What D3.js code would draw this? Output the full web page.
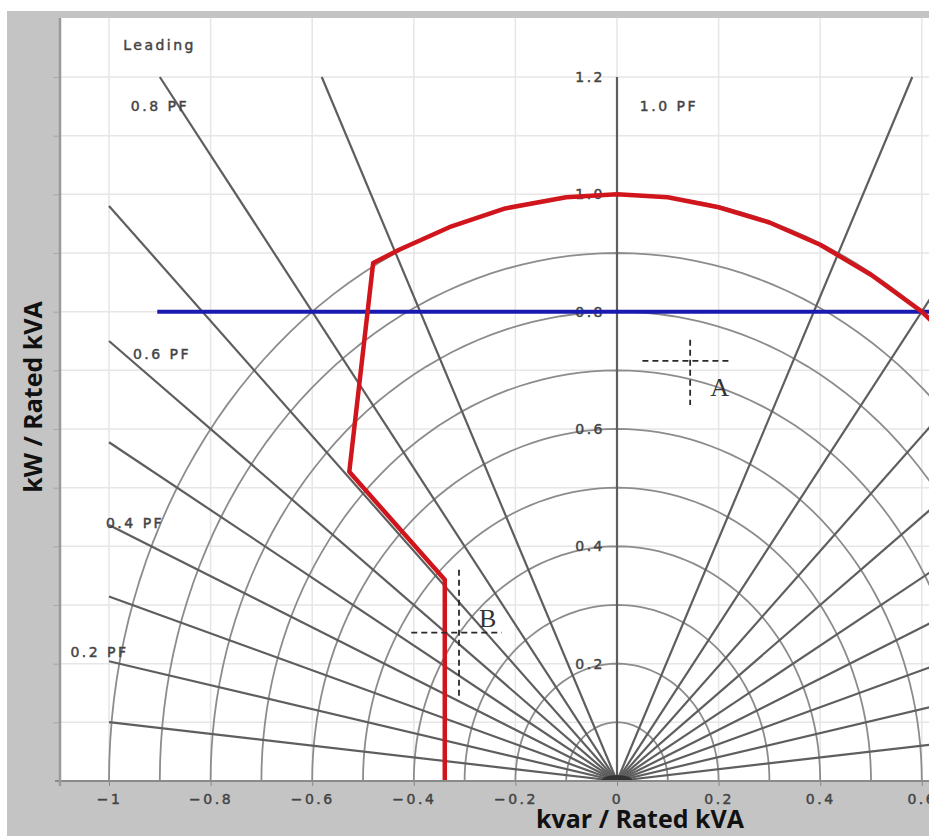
<!DOCTYPE html>
<html>
<head>
<meta charset="utf-8">
<script src="https://cdn.jsdelivr.net/npm/d3@7"></script>
<style>
body { margin: 0; background: #fff; }
svg { display: block; }
.lbl { font-family: "DejaVu Sans", sans-serif; font-size: 14px; letter-spacing: 2.5px; fill: #444; stroke: #444; stroke-width: 0.45px; }
.title { font-family: "Open Sans", sans-serif; font-weight: bold; font-size: 25px; fill: #111; }
.mark { font-family: "Liberation Serif", serif; font-size: 26px; fill: #333; }
</style>
</head>
<body>
<div id="chart"></div>
<script>
// power factor lines (leading on the left, lagging on the right)
var pfValues = [0.1, 0.2, 0.3, 0.4, 0.5, 0.6, 0.7, 0.8, 0.9];
// apparent power rings
var ringRadii = [0.1, 0.2, 0.3, 0.4, 0.5, 0.6, 0.7, 0.8, 0.9, 1.0];

var xTicks = [-1, -0.8, -0.6, -0.4, -0.2, 0, 0.2, 0.4, 0.6];
var yTicks = [0.2, 0.4, 0.6, 0.8, 1.0, 1.2];
var yGrid = [0.1, 0.2, 0.3, 0.4, 0.5, 0.6, 0.7, 0.8, 0.9, 1.0, 1.1, 1.2];
var xGrid = [-1, -0.8, -0.6, -0.4, -0.2, 0, 0.2, 0.4, 0.6];

// capability curve [kvar, kW]
var capCurve = [
	[-0.339, 0], [-0.339, 0.343], [-0.527, 0.527], [-0.48, 0.883],
	[-0.43, 0.905], [-0.33, 0.944], [-0.22, 0.976], [-0.1, 0.995],
	[0, 1.0], [0.1, 0.995], [0.2, 0.978], [0.3, 0.952], [0.4, 0.914],
	[0.5, 0.863], [0.6, 0.8], [0.66, 0.75]
];
// kW limit
var kwLimit = [[-0.905, 0.8], [1.0, 0.8]];

// operating points
var points = [
	{ name: "A", x: 0.144, y: 0.716, dx: [0.05, 0.226], dy: [0.641, 0.752] },
	{ name: "B", x: -0.311, y: 0.253, dx: [-0.405, -0.227], dy: [0.143, 0.36] }
];

var pfLabels = [
	{ text: "Leading", x: -0.972, y: 1.254 },
	{ text: "0.8 PF", x: -0.957, y: 1.15 },
	{ text: "1.0 PF", x: 0.045, y: 1.15 },
	{ text: "0.6 PF", x: -0.953, y: 0.728 },
	{ text: "0.4 PF", x: -1.006, y: 0.44 },
	{ text: "0.2 PF", x: -1.076, y: 0.22 }
];

var W = 929, H = 836;
var plotLeft = 60, plotTop = 18, plotBottom = 781;

var x = d3.scaleLinear().domain([-1, 0]).range([109, 617]);
var y = d3.scaleLinear().domain([0, 1.2]).range([781, 77]);

var svg = d3.select("#chart").append("svg")
	.attr("width", W)
	.attr("height", H);

svg.append("rect")
	.attr("x", 7).attr("y", 11)
	.attr("width", W - 7).attr("height", H - 11)
	.attr("fill", "#c4c4c4");

svg.append("rect")
	.attr("x", plotLeft).attr("y", plotTop)
	.attr("width", W - plotLeft).attr("height", plotBottom - plotTop)
	.attr("fill", "#fff");

svg.append("clipPath").attr("id", "plot-clip")
	.append("rect")
	.attr("x", plotLeft).attr("y", plotTop)
	.attr("width", W - plotLeft).attr("height", plotBottom - plotTop);

var plot = svg.append("g").attr("clip-path", "url(#plot-clip)");

// light grid
plot.append("g").selectAll("line")
	.data(yGrid)
	.enter()
	.append("line")
	.attr("x1", plotLeft).attr("x2", W)
	.attr("y1", function (d) { return y(d); })
	.attr("y2", function (d) { return y(d); })
	.attr("stroke", "#e6e6e6")
	.attr("stroke-width", 1.5);

plot.append("g").selectAll("line")
	.data(xGrid)
	.enter()
	.append("line")
	.attr("y1", plotTop).attr("y2", plotBottom)
	.attr("x1", function (d) { return x(d); })
	.attr("x2", function (d) { return x(d); })
	.attr("stroke", "#e6e6e6")
	.attr("stroke-width", 1.5);

// rings
var angles = d3.range(0, 181, 2);

plot.append("g").selectAll("path")
	.data(ringRadii)
	.enter()
	.append("path")
	.attr("d", function (r) {
		return d3.line()
			.x(function (a) { return x(r * Math.cos(a * Math.PI / 180)); })
			.y(function (a) { return y(r * Math.sin(a * Math.PI / 180)); })(angles);
	})
	.attr("fill", "none")
	.attr("stroke", "#8c8c8c")
	.attr("stroke-width", 1.8);

// pf lines, clipped to the [-1,1] x [0,1.2] box
var rays = [];
pfValues.forEach(function (pf) {
	rays.push({ pf: pf, side: -1 });
	rays.push({ pf: pf, side: 1 });
});
rays.push({ pf: 1, side: 1 });

plot.append("g").selectAll("line")
	.data(rays)
	.enter()
	.append("line")
	.each(function (d) {
		var s = Math.sqrt(1 - d.pf * d.pf);
		var t = Math.min(s > 0 ? 1 / s : Infinity, 1.2 / d.pf);
		d3.select(this)
			.attr("x1", x(0)).attr("y1", y(0))
			.attr("x2", x(d.side * s * t))
			.attr("y2", y(d.pf * t));
	})
	.attr("stroke", "#5e5e5e")
	.attr("stroke-width", 2.2);

// dark knot where the pf lines meet
plot.append("ellipse")
	.attr("cx", x(0)).attr("cy", y(0))
	.attr("rx", 16).attr("ry", 6)
	.attr("fill", "#222")
	.attr("opacity", 0.7);

// axes
var xAxis = d3.axisBottom(x).tickValues(xTicks).tickSize(5).tickPadding(8)
	.tickFormat(d3.format("~g"));
var gx = svg.append("g")
	.attr("transform", "translate(0," + plotBottom + ")")
	.call(xAxis);
gx.select(".domain").remove();
gx.append("line").attr("x1", 55).attr("x2", W).attr("stroke", "#8a8a8a").attr("stroke-width", 2);
gx.selectAll(".tick line").attr("stroke", "#8a8a8a");
gx.selectAll(".tick text")
	.attr("class", "lbl")
	.attr("fill", null)
	.attr("font-size", null)
	.attr("font-family", null);

var yAxis = d3.axisLeft(y).tickValues(yGrid).tickSize(7).tickFormat("");
var gy = svg.append("g")
	.attr("transform", "translate(" + plotLeft + ",0)")
	.call(yAxis);
gy.select(".domain").remove();
gy.append("line").attr("y1", plotTop).attr("y2", plotBottom + 5).attr("stroke", "#9a9a9a").attr("stroke-width", 2.5);
gy.selectAll(".tick line").attr("stroke", "#a8a8a8");

// y tick labels sit on the 1.0 pf line
plot.append("g").selectAll("text")
	.data(yTicks)
	.enter()
	.append("text")
	.attr("class", "lbl")
	.attr("x", x(0) - 12)
	.attr("y", function (d) { return y(d); })
	.attr("dy", "0.35em")
	.attr("text-anchor", "end")
	.text(function (d) { return d3.format(".1f")(d); });

// pf labels
plot.append("g").selectAll("text")
	.data(pfLabels)
	.enter()
	.append("text")
	.attr("class", "lbl")
	.attr("x", function (d) { return x(d.x); })
	.attr("y", function (d) { return y(d.y); })
	.attr("dy", "0.35em")
	.text(function (d) { return d.text; });

var line = d3.line()
	.x(function (d) { return x(d[0]); })
	.y(function (d) { return y(d[1]); });

plot.append("path")
	.attr("d", line(kwLimit))
	.attr("fill", "none")
	.attr("stroke", "#1a1ab0")
	.attr("stroke-width", 4);

plot.append("path")
	.attr("d", line(capCurve))
	.attr("fill", "none")
	.attr("stroke", "#d0161c")
	.attr("stroke-width", 4.5)
	.attr("stroke-linejoin", "round");

// operating point crosshairs
var marks = plot.append("g").selectAll("g")
	.data(points)
	.enter()
	.append("g");

marks.append("line")
	.attr("x1", function (d) { return x(d.dx[0]); })
	.attr("x2", function (d) { return x(d.dx[1]); })
	.attr("y1", function (d) { return y(d.y); })
	.attr("y2", function (d) { return y(d.y); })
	.attr("stroke", "#2a2a2a")
	.attr("stroke-width", 1.8)
	.attr("stroke-dasharray", "6,4");

marks.append("line")
	.attr("x1", function (d) { return x(d.x); })
	.attr("x2", function (d) { return x(d.x); })
	.attr("y1", function (d) { return y(d.dy[1]); })
	.attr("y2", function (d) { return y(d.dy[0]); })
	.attr("stroke", "#2a2a2a")
	.attr("stroke-width", 1.8)
	.attr("stroke-dasharray", "6,4");

marks.append("text")
	.attr("class", "mark")
	.attr("x", function (d) { return x(d.x) + 20; })
	.attr("y", function (d) { return y(d.y) + (d.name == "A" ? 35 : -6); })
	.text(function (d) { return d.name; });

// axis titles
svg.append("text")
	.attr("class", "title")
	.attr("x", 640)
	.attr("y", 828)
	.attr("text-anchor", "middle")
	.text("kvar / Rated kVA");

svg.append("text")
	.attr("class", "title")
	.attr("transform", "translate(42,397) rotate(-90)")
	.attr("text-anchor", "middle")
	.text("kW / Rated kVA");
</script>
</body>
</html>
